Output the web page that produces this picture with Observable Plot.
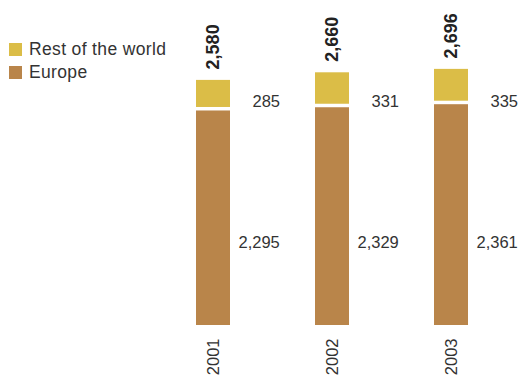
<!DOCTYPE html>
<html>
<head>
<meta charset="utf-8">
<script src="https://cdn.jsdelivr.net/npm/d3@7"></script>
<script src="https://cdn.jsdelivr.net/npm/@observablehq/plot@0.6"></script>
<style>
  html, body { margin: 0; padding: 0; background: #fff; }
  #wrap { position: relative; width: 521px; height: 380px; font-family: "Liberation Sans", Arial, sans-serif; }
  #legend { position: absolute; left: 9px; top: 37.5px; font-size: 17.5px; letter-spacing: 0.35px; color: #333; }
  #legend .row { display: flex; align-items: center; height: 23px; }
  #legend .sw { width: 13px; height: 13px; margin-right: 7px; }
</style>
</head>
<body>
<div id="wrap"></div>
<script>
const years = ["2001", "2002", "2003"];
const europe = [2295, 2329, 2361];
const restOfWorld = [285, 331, 335];
const totals = [2580, 2660, 2696];
const seriesNames = ["Rest of the world", "Europe"];
const seriesColors = ["#dbbd47", "#b9854a"];

const fmt = d3.format(",");
const europeRows = years.map((y, i) => ({year: y, value: europe[i]}));
const restRows = years.map((y, i) => ({year: y, value: restOfWorld[i], base: europe[i], top: europe[i] + restOfWorld[i]}));
const totalRows = years.map((y, i) => ({year: y, value: totals[i]}));

const chart = Plot.plot({
  width: 521,
  height: 380,
  marginLeft: 153.5,
  marginRight: 10.5,
  marginTop: 40,
  marginBottom: 55,
  style: {fontFamily: "Liberation Sans, Arial, sans-serif", fontSize: "16px", color: "#333", background: "#fff"},
  x: {domain: years, paddingInner: 0.714, paddingOuter: 0.357, label: null},
  y: {domain: [0, 3000], axis: null},
  marks: [
    Plot.barY(europeRows, {x: "year", y: "value", fill: seriesColors[1], insetTop: 3.5}),
    Plot.barY(restRows, {x: "year", y1: "base", y2: "top", fill: seriesColors[0]}),
    Plot.text(europeRows, {x: "year", text: d => fmt(d.value), frameAnchor: "bottom", dy: -78, dx: 25, textAnchor: "start", fill: "#333", fontSize: 16.5}),
    Plot.text(restRows, {x: "year", text: d => fmt(d.value), frameAnchor: "top", dy: 55, dx: 39, textAnchor: "start", fill: "#333", fontSize: 16.5}),
    Plot.text(totalRows, {x: "year", y: "value", text: d => fmt(d.value), rotate: -90, textAnchor: "start", dy: -11, fontWeight: "bold", fill: "#222", fontSize: 18}),
    Plot.axisX({tickSize: 0, tickPadding: 13, tickRotate: -90, label: null, fontSize: 16.5, fill: "#333"})
  ]
});

const wrap = document.getElementById("wrap");
wrap.appendChild(chart);
const legend = document.createElement("div");
legend.id = "legend";
seriesNames.forEach((n, i) => {
  const r = document.createElement("div");
  r.className = "row";
  const s = document.createElement("div");
  s.className = "sw";
  s.style.background = seriesColors[i];
  const t = document.createElement("span");
  t.textContent = n;
  r.appendChild(s); r.appendChild(t);
  legend.appendChild(r);
});
wrap.appendChild(legend);
</script>
</body>
</html>
